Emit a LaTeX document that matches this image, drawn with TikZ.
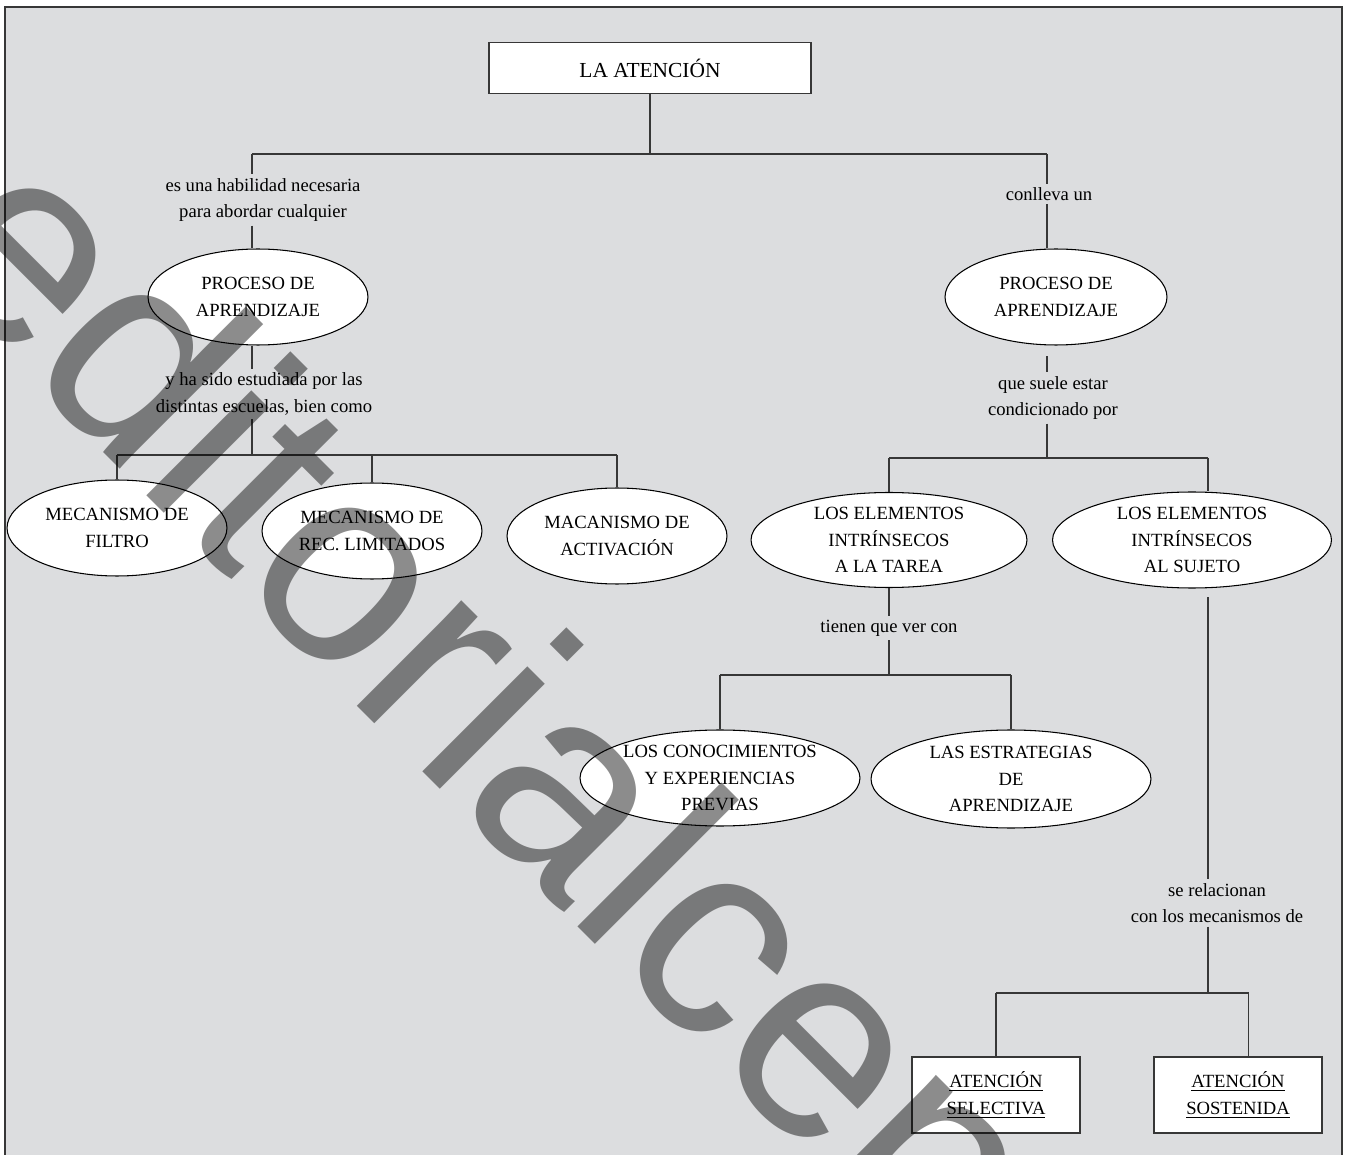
\documentclass[tikz,border=0pt]{standalone}
\usepackage{fontspec}
\setmainfont{Liberation Serif}
\newfontfamily\markfont{Liberation Sans}
\usetikzlibrary{shapes.geometric}
\definecolor{paneGray}{RGB}{220,221,223}
\definecolor{wireGray}{RGB}{55,55,55}

\begin{document}
\begin{tikzpicture}[x=0.02cm,y=-0.02cm,
  every node/.style={font=\fontsize{10.6}{15.1}\selectfont,align=center},
  oval/.style={ellipse,draw,fill=white,line width=0.6pt,inner sep=0pt,minimum width=4.4cm,minimum height=1.92cm},
  bigoval/.style={oval,minimum width=5.58cm},
  rectbox/.style={draw=wireGray,fill=white,line width=0.8pt,inner sep=0pt,minimum width=3.36cm,minimum height=1.52cm},
  linktext/.style={inner xsep=0pt,inner ysep=2pt},
  wire/.style={wireGray,line width=0.8pt}]
  \useasboundingbox (0,0) rectangle (1350,1155);
  \clip (0,0) rectangle (1350,1155);
  \draw[fill=paneGray,draw=wireGray,line width=0.8pt] (5,7) rectangle (1342,1175);

  \node[rectbox,minimum width=6.44cm,minimum height=1.02cm,font=\fontsize{12.2}{14}\selectfont] (aten) at (650,68) {LA ATENCIÓN};
  \coordinate (top) at (650,154);
  \coordinate (topL) at (252,154);
  \coordinate (topR) at (1047,154);

  \node[linktext] (habil) at (263,200) {es una habilidad necesaria\\para abordar cualquier};
  \node[oval] (procL) at (258,297) {PROCESO DE\\APRENDIZAJE};
  \node[linktext] (estud) at (264,394) {y ha sido estudiada por las\\distintas escuelas, bien como};
  \coordinate (midL) at (252,455);
  \node[oval] (filtro) at (117,528) {MECANISMO DE\\FILTRO};
  \node[oval] (recur) at (372,531) {MECANISMO DE\\REC. LIMITADOS};
  \node[oval] (activ) at (617,536) {MACANISMO DE\\ACTIVACIÓN};

  \node[linktext] (conl) at (1049,194) {conlleva un};
  \node[oval,minimum width=4.44cm] (procR) at (1056,297) {PROCESO DE\\APRENDIZAJE};
  \node[linktext] (suele) at (1053,398) {que suele estar\\condicionado por};
  \coordinate (midR) at (1047,458);
  \node[bigoval,minimum width=5.52cm,minimum height=1.9cm] (tarea) at (889,540) {LOS ELEMENTOS\\INTRÍNSECOS\\A LA TAREA};
  \node[bigoval] (sujeto) at (1192,540) {LOS ELEMENTOS\\INTRÍNSECOS\\AL SUJETO};
  \node[linktext] (tienen) at (889,628) {tienen que ver con};
  \coordinate (midT) at (889,675);
  \node[bigoval,minimum width=5.6cm] (conoc) at (720,778) {LOS CONOCIMIENTOS\\Y EXPERIENCIAS\\PREVIAS};
  \node[bigoval,minimum width=5.6cm,minimum height=1.96cm] (estrat) at (1011,779) {LAS ESTRATEGIAS\\DE\\APRENDIZAJE};
  \node[linktext] (relac) at (1217,903) {se relacionan\\con los mecanismos de};
  \coordinate (midS) at (1208,993);
  \node[rectbox] (selec) at (996,1095) {\underline{ATENCIÓN}\\\underline{SELECTIVA}};
  \node[rectbox] (soste) at (1238,1095) {\underline{ATENCIÓN}\\\underline{SOSTENIDA}};

  \draw[wire] (aten) -- (top);
  \draw[wire] (topL) -- (topR);
  \draw[wire] (topL) -- (topL |- habil.north);
  \draw[wire] (topL |- habil.south) -- (topL |- procL.north);
  \draw[wire] (procL.south -| topL) -- (topL |- estud.north);
  \draw[wire] (topL |- estud.south) -- (midL);
  \draw[wire] (filtro.north |- midL) -- (activ.north |- midL);
  \foreach \n in {filtro,recur,activ}
    \draw[wire] (\n.north |- midL) -- (\n.north);

  \draw[wire] (topR) -- (topR |- conl.north);
  \draw[wire] (topR |- conl.south) -- (topR |- procR.north);
  \draw[wire,shorten <=6pt] (procR.south -| topR) -- (topR |- suele.north);
  \draw[wire] (topR |- suele.south) -- (midR);
  \draw[wire] (tarea.north |- midR) -- (midS |- midR);
  \draw[wire] (tarea.north |- midR) -- (tarea.north);
  \draw[wire] (midS |- midR) -- (midS |- sujeto.north);
  \draw[wire] (tarea.south) -- (tienen);
  \draw[wire] (tienen) -- (midT);
  \draw[wire] (conoc.north |- midT) -- (estrat.north |- midT);
  \draw[wire] (conoc.north |- midT) -- (conoc.north);
  \draw[wire] (estrat.north |- midT) -- (estrat.north);
  \draw[wire,shorten <=5pt] (midS |- sujeto.south) -- (midS |- relac.north);
  \draw[wire] (midS |- relac.south) -- (midS);
  \draw[wire] (selec.north |- midS) -- ([xshift=6pt]soste.north |- midS);
  \draw[wire] (selec.north |- midS) -- (selec.north);
  \draw[wire] ([xshift=6pt]soste.north |- midS) -- ([xshift=6pt]soste.north);

  \node[anchor=base west,rotate=-45,inner sep=0pt,text=black,text opacity=0.45,font=\markfont\fontsize{160}{160}\selectfont] (mark) at (-88,261) {editorialcep};
\end{tikzpicture}
\end{document}
